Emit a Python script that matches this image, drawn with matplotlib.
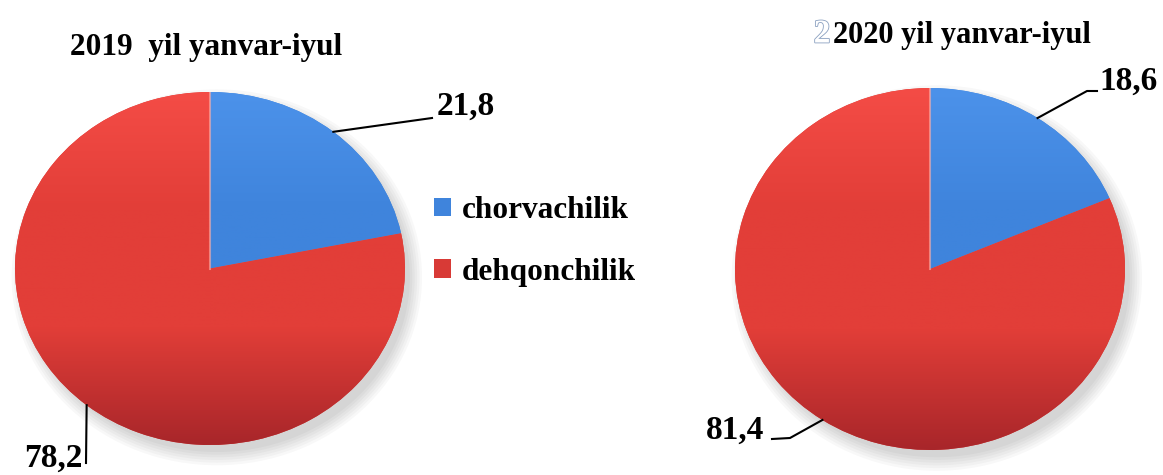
import numpy as np
import matplotlib
matplotlib.use('Agg')
import matplotlib.pyplot as plt
from matplotlib.colors import LinearSegmentedColormap
from matplotlib.patches import Patch, Ellipse
import matplotlib.patheffects as pe

plt.rcParams['font.family'] = ['Liberation Serif', 'DejaVu Serif']
plt.rcParams['font.weight'] = 'bold'

# data
categories = ['chorvachilik', 'dehqonchilik']
titles = ['2019  yil yanvar-iyul', '2020 yil yanvar-iyul']
values_2019 = [21.8, 78.2]
values_2020 = [18.6, 81.4]
value_labels_2019 = ['21,8', '78,2']
value_labels_2020 = ['18,6', '81,4']

# gradient colours (top, middle, bottom) per slice
grad_colors = [('#4c92ea', '#3f84dc', '#3370c6'),
               ('#f44c46', '#e23e38', '#a8262a')]
legend_colors = ['#3f84dc', '#d83a36']

W, H = 1163, 475
fig = plt.figure(figsize=(W / 100, H / 100), dpi=100)


def rect(x0, y0, x1, y1):
    # pixel box (top-left origin) -> figure fraction
    return [x0 / W, 1 - y1 / H, (x1 - x0) / W, (y1 - y0) / H]


def fpx(x, y):
    return (x / W, 1 - y / H)


def draw_pie(box, values, labels, label_pos, elbows):
    ax = fig.add_axes(rect(*box))
    # soft shadow, mostly bottom-right
    for k in range(6):
        e = Ellipse((0.035, -0.05), 1.98 + 0.025 * k, 1.98 + 0.03 * k,
                    facecolor='#000000', alpha=0.028, edgecolor='none',
                    zorder=0, clip_on=False)
        ax.add_patch(e)
    wedges, _ = ax.pie(values, startangle=90, counterclock=False,
                       colors=legend_colors, radius=1.0,
                       wedgeprops=dict(edgecolor='none'))
    grad = np.linspace(0, 1, 256)[:, None]
    for w, (c_top, c_mid, c_bot) in zip(wedges, grad_colors):
        cmap = LinearSegmentedColormap.from_list('g', [c_top, c_mid, c_mid, c_bot])
        im = ax.imshow(grad, cmap=cmap, extent=(-1, 1, -1, 1), origin='upper',
                       aspect='auto', zorder=2)
        im.set_clip_path(w)
    # light highlight along the top radius
    ax.plot([0, 0], [0, 1], color='#ffb0a8', lw=1.5, alpha=0.6, zorder=3)
    ax.set_aspect('auto')
    ax.set_xlim(-1, 1)
    ax.set_ylim(-1, 1)
    ax.axis('off')

    for w, lab, (tx, ty), elbow in zip(wedges, labels, label_pos, elbows):
        ang = np.deg2rad((w.theta1 + w.theta2) / 2)
        xy = (np.cos(ang), np.sin(ang))
        ax.text(*fpx(tx, ty), lab, transform=fig.transFigure, fontsize=24,
                fontweight='bold', ha='left', va='center')
        pts = [ax.transData.transform(xy)]
        for ex, ey in elbow:
            pts.append(fig.transFigure.transform(fpx(ex, ey)))
        pts = np.array(pts)
        fig.add_artist(plt.Line2D(pts[:, 0] / W, pts[:, 1] / H,
                                  transform=fig.transFigure, color='black',
                                  lw=1.5))
    return ax


draw_pie((15, 92, 405, 445), values_2019, value_labels_2019,
         [(437, 106), (24, 458)],
         [[(432, 118)], [(86, 463)]])
draw_pie((735, 88, 1125, 450), values_2020, value_labels_2020,
         [(1099, 81), (706, 430)],
         [[(1087, 91), (1097, 91)], [(790, 438), (772, 439)]])

fig.text(*fpx(206, 47), titles[0], fontsize=22.5, fontweight='bold',
         ha='center', va='center')
fig.text(*fpx(962, 35), titles[1], fontsize=22, fontweight='bold',
         ha='center', va='center')
fig.text(*fpx(822, 34), '2', fontsize=24, color='white', ha='center',
         va='center', path_effects=[pe.withStroke(linewidth=1.2,
                                                   foreground='#8aa0c0')])

handles = [Patch(facecolor=c, edgecolor='none') for c in legend_colors]
fig.legend(handles, categories, loc='upper left', bbox_to_anchor=fpx(434, 196),
           frameon=False, fontsize=22.5, handlelength=0.55, handleheight=0.55,
           handletextpad=0.35, labelspacing=1.05, borderpad=0, borderaxespad=0)

fig.savefig('out.png', dpi=100)
